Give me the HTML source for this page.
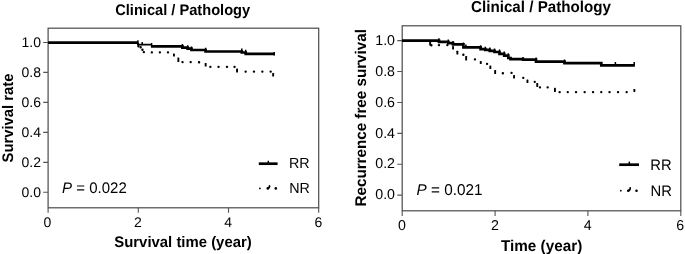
<!DOCTYPE html>
<html><head><meta charset="utf-8">
<style>
html,body{margin:0;padding:0;background:#fff;}
svg{display:block;}
text{font-family:"Liberation Sans",Arial,sans-serif;fill:#000;text-rendering:geometricPrecision;}
.b{font-weight:bold;}
.ax{stroke:#4a4a4a;stroke-width:1.2;fill:none;}
.tk{stroke:#555;stroke-width:1.1;fill:none;}
.rr{stroke:#000;stroke-width:2.7;fill:none;}
.ct{stroke:#000;stroke-width:1.5;fill:none;}
.dots rect,.dot{fill:#000;stroke:none;}
</style></head><body>
<svg width="685" height="254" viewBox="0 0 685 254">
<rect width="685" height="254" fill="#fff"/>

<!-- LEFT CHART -->
<g>
<text class="b" x="182.7" y="15.1" font-size="15.30" text-anchor="middle" textLength="135" lengthAdjust="spacingAndGlyphs">Clinical / Pathology</text>
<rect class="ax" x="48.1" y="28.2" width="270.6" height="179.6"/>
<path class="tk" d="M43.2,42.5H48 M43.2,72.4H48 M43.2,102.4H48 M43.2,132.4H48 M43.2,162.4H48 M43.2,192.3H48"/>
<path class="tk" d="M48.1,207.8V212.8 M138.3,207.8V212.8 M228.5,207.8V212.8 M318.7,207.8V212.8"/>
<g font-size="14" text-anchor="end">
<text x="41" y="47.2">1.0</text>
<text x="41" y="77.1">0.8</text>
<text x="41" y="107.1">0.6</text>
<text x="41" y="137.1">0.4</text>
<text x="41" y="167.1">0.2</text>
<text x="41" y="197">0.0</text>
</g>
<g font-size="14" text-anchor="middle">
<text x="47.4" y="227.3">0</text>
<text x="137.9" y="227.3">2</text>
<text x="228.1" y="227.3">4</text>
<text x="318.3" y="227.3">6</text>
</g>
<text class="b" font-size="15.30" text-anchor="middle" transform="translate(12.6,118) rotate(-90)" textLength="89.00" lengthAdjust="spacingAndGlyphs">Survival rate</text>
<text class="b" font-size="15.30" text-anchor="middle" x="183" y="246.6" textLength="137.40" lengthAdjust="spacingAndGlyphs">Survival time (year)</text>
<text font-size="15.30" x="62.1" y="192.7" textLength="64.66" lengthAdjust="spacingAndGlyphs"><tspan font-style="italic">P</tspan> = 0.022</text>
<path class="rr" d="M48,42.7H138"/>
<path d="M138,42.5V44.6H151.6" stroke="#000" stroke-width="1.9" fill="none"/>
<path class="rr" d="M151,46.3H182.4V47.6H187.7V48.7H191.5V50H205.6V51.5H241.8V52.5H245.7V53.8H274.7"/>
<path class="ct" d="M137.9,40.3V44.7 M142.2,41.9V45.2 M151.6,43V47 M182.4,44.1V47.5 M187.7,45.3V48.5 M191.4,46.5V50 M205.6,47.7V52 M241.8,48.6V52 M245.7,49.8V53.5 M274.2,52V55.6"/>
<g class="dots">
<rect x="137.3" y="45.1" width="2.3" height="2.3" rx="1"/>
<rect x="139.5" y="46.1" width="2.3" height="2.3" rx="1"/>
<rect x="141.3" y="48.6" width="2.3" height="2.3" rx="1"/>
<rect x="142.7" y="50.9" width="2.3" height="2.3" rx="1"/>
<rect x="150.7" y="51.2" width="2.3" height="2.3" rx="1"/>
<rect x="158.7" y="51.2" width="2.3" height="2.3" rx="1"/>
<rect x="166.8" y="51.2" width="2.3" height="2.3" rx="1"/>
<rect x="173.0" y="53.5" width="1.9" height="3.0" rx="0.5"/>
<rect x="177.4" y="57.5" width="1.9" height="4.5" rx="0.5"/>
<rect x="181.4" y="60.9" width="2.3" height="2.3" rx="1"/>
<rect x="189.5" y="60.9" width="2.3" height="2.3" rx="1"/>
<rect x="197.9" y="61.1" width="2.3" height="2.3" rx="1"/>
<rect x="204.7" y="63.0" width="1.9" height="3.5" rx="0.5"/>
<rect x="209.2" y="65.8" width="2.3" height="2.3" rx="1"/>
<rect x="217.4" y="65.8" width="2.3" height="2.3" rx="1"/>
<rect x="225.8" y="65.8" width="2.3" height="2.3" rx="1"/>
<rect x="233.4" y="65.8" width="2.3" height="2.3" rx="1"/>
<rect x="236.1" y="68.5" width="1.9" height="4.0" rx="0.5"/>
<rect x="244.5" y="70.4" width="2.3" height="2.3" rx="1"/>
<rect x="252.8" y="70.4" width="2.3" height="2.3" rx="1"/>
<rect x="261.2" y="70.4" width="2.3" height="2.3" rx="1"/>
<rect x="269.5" y="70.4" width="2.3" height="2.3" rx="1"/>
<rect x="272.2" y="73.0" width="1.9" height="3.5" rx="0.5"/>
</g>
<path class="rr" d="M258.8,163.7H277.6"/>
<path class="ct" d="M268.3,160.8V164"/>
<circle class="dot" cx="259.9" cy="188.4" r="0.9"/>
<circle class="dot" cx="267.8" cy="188.4" r="1.3"/>
<path d="M267.8,188.4Q269.7,188 269.5,185.9" stroke="#000" stroke-width="1.7" stroke-linecap="round" fill="none"/>
<circle class="dot" cx="275.8" cy="188.4" r="1.3"/>
<text font-size="14.59" x="288.9" y="168.1" textLength="20.66" lengthAdjust="spacingAndGlyphs">RR</text>
<text font-size="14.59" x="289.3" y="192.9" textLength="20.66" lengthAdjust="spacingAndGlyphs">NR</text>
</g>

<!-- RIGHT CHART -->
<g>
<text class="b" x="541" y="11.8" font-size="15.81" text-anchor="middle" textLength="140" lengthAdjust="spacingAndGlyphs">Clinical / Pathology</text>
<rect class="ax" x="402.2" y="25.8" width="278.6" height="185"/>
<path class="tk" d="M397.3,40.65H402 M397.3,71.55H402 M397.3,102.45H402 M397.3,133.35H402 M397.3,164.25H402 M397.3,195.15H402"/>
<path class="tk" d="M402.2,210.8V215.9 M495.1,210.8V215.9 M587.9,210.8V215.9 M680.8,210.8V215.9"/>
<g font-size="14.2" text-anchor="end">
<text x="395" y="44.8">1.0</text>
<text x="395" y="75.7">0.8</text>
<text x="395" y="106.6">0.6</text>
<text x="395" y="137.5">0.4</text>
<text x="395" y="168.4">0.2</text>
<text x="395" y="199.3">0.0</text>
</g>
<g font-size="14.2" text-anchor="middle">
<text x="402" y="229.8">0</text>
<text x="495" y="229.8">2</text>
<text x="587.7" y="229.8">4</text>
<text x="680.2" y="229.8">6</text>
</g>
<text class="b" font-size="15.50" text-anchor="middle" transform="translate(366.1,117.8) rotate(-90)" textLength="177.30" lengthAdjust="spacingAndGlyphs">Recurrence free survival</text>
<text class="b" font-size="15.61" text-anchor="middle" x="541.6" y="250.6" textLength="81.34" lengthAdjust="spacingAndGlyphs">Time (year)</text>
<text font-size="15.61" x="416.6" y="194.9" textLength="65.92" lengthAdjust="spacingAndGlyphs"><tspan font-style="italic">P</tspan> = 0.021</text>
<path class="rr" d="M402,40.6H439V41.8H448.3V43.2H453V44.4H463.4V47.4H480.6V49.2H485.3V49.9H489.8V50.8H494.5V52H499.5V53.9H504.2V55.7H508.3V58H510.5V59.2H523V59.6H536V61.7H564.5V63.2H601.3V65.3H634.6"/>
<path class="ct" d="M438.9,38.3V42.5 M448.3,39.5V44 M453,41V45 M463.4,42.5V47.5 M465.9,44.5V48 M480.6,45.2V49 M485.3,46.8V50 M489.8,47.5V51 M494.5,48.4V52 M499.5,49.6V54 M504.2,51.5V55.7 M508.3,53.3V58 M523,57V60.5 M536.1,57.5V62 M564.5,59.4V63.5 M615.4,62.1V65.5 M634.2,62.1V66.2"/>
<g class="dots">
<rect x="429.2" y="41.5" width="1.9" height="4.0" rx="0.5"/>
<rect x="430.2" y="44.1" width="2.3" height="2.3" rx="1"/>
<rect x="437.8" y="43.9" width="2.3" height="2.3" rx="1"/>
<rect x="446.2" y="43.9" width="2.3" height="2.3" rx="1"/>
<rect x="452.1" y="46.0" width="1.9" height="3.5" rx="0.5"/>
<rect x="456.4" y="50.7" width="1.9" height="3.8" rx="0.5"/>
<rect x="462.2" y="53.6" width="2.3" height="2.3" rx="1"/>
<rect x="465.2" y="56.0" width="1.9" height="4.5" rx="0.5"/>
<rect x="473.8" y="58.2" width="2.3" height="2.3" rx="1"/>
<rect x="479.8" y="61.0" width="1.9" height="3.0" rx="0.5"/>
<rect x="485.9" y="62.8" width="2.3" height="2.3" rx="1"/>
<rect x="489.4" y="65.5" width="1.9" height="3.5" rx="0.5"/>
<rect x="494.2" y="70.0" width="1.9" height="4.0" rx="0.5"/>
<rect x="501.7" y="72.1" width="2.3" height="2.3" rx="1"/>
<rect x="510.4" y="71.8" width="2.3" height="2.3" rx="1"/>
<rect x="513.1" y="75.0" width="1.9" height="3.5" rx="0.5"/>
<rect x="522.1" y="76.8" width="2.3" height="2.3" rx="1"/>
<rect x="526.5" y="79.5" width="1.9" height="3.5" rx="0.5"/>
<rect x="533.6" y="80.8" width="2.3" height="2.3" rx="1"/>
<rect x="536.3" y="83.0" width="1.9" height="4.0" rx="0.5"/>
<rect x="538.8" y="86.2" width="2.3" height="2.3" rx="1"/>
<rect x="546.5" y="86.2" width="2.3" height="2.3" rx="1"/>
<rect x="554.0" y="87.8" width="1.9" height="4.2" rx="0.5"/>
<rect x="558.5" y="91.0" width="2.3" height="2.3" rx="1"/>
<rect x="566.6" y="91.0" width="2.3" height="2.3" rx="1"/>
<rect x="574.9" y="91.0" width="2.3" height="2.3" rx="1"/>
<rect x="583.5" y="91.0" width="2.3" height="2.3" rx="1"/>
<rect x="591.9" y="91.0" width="2.3" height="2.3" rx="1"/>
<rect x="600.1" y="91.0" width="2.3" height="2.3" rx="1"/>
<rect x="608.4" y="91.0" width="2.3" height="2.3" rx="1"/>
<rect x="616.9" y="91.0" width="2.3" height="2.3" rx="1"/>
<rect x="625.5" y="91.0" width="2.3" height="2.3" rx="1"/>
<rect x="633.4" y="89.0" width="1.9" height="3.0" rx="0.5"/>
</g>
<path class="rr" d="M619.2,164.7H639"/>
<path class="ct" d="M629.3,161.6V165"/>
<circle class="dot" cx="620.8" cy="190.7" r="0.9"/>
<circle class="dot" cx="628.3" cy="190.7" r="1.3"/>
<path d="M628.3,190.7Q630.4,190.3 630.2,187.9" stroke="#000" stroke-width="1.7" stroke-linecap="round" fill="none"/>
<circle class="dot" cx="636.5" cy="190.7" r="1.3"/>
<text font-size="15.10" x="650.3" y="170" textLength="21.38" lengthAdjust="spacingAndGlyphs">RR</text>
<text font-size="15.10" x="650.6" y="195.6" textLength="21.38" lengthAdjust="spacingAndGlyphs">NR</text>
</g>
</svg>
</body></html>
